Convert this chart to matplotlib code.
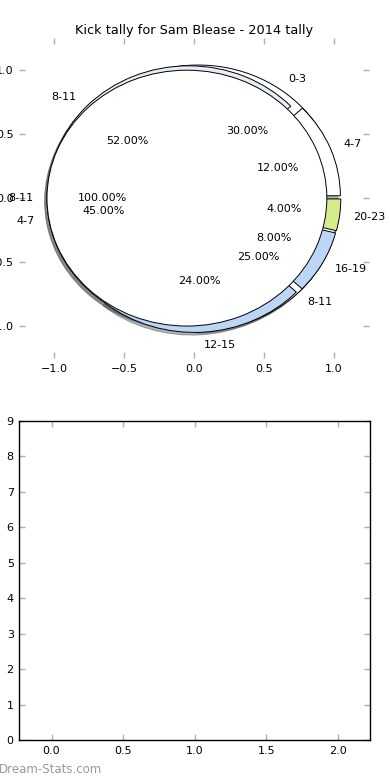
#!/usr/bin/env python3
"""
Kick tally pie chart for Sam Blease - 2014
"""

import matplotlib
matplotlib.use('Agg')
import matplotlib.pyplot as plt

# Three overlaid pies, each listed by kick bucket
pie_b_labels = ['0-3', '4-7', '8-11']
pie_b_values = [30, 45, 25]
pie_b_colors = ['white', 'white', 'white']

pie_c_labels = ['4-7', '8-11', '12-15', '16-19', '20-23']
pie_c_values = [12, 52, 24, 8, 4]
pie_c_colors = ['white', '#e6edf7', '#bcd6f8', '#bcd6f8', '#d4ec8c']

pie_a_labels = ['8-11']
pie_a_values = [100]
pie_a_colors = ['white']

title = 'Kick tally for Sam Blease - 2014 tally'
bottom_yticks = list(range(10))
bottom_xticks = [0.0, 0.5, 1.0, 1.5, 2.0]

FONT = 8
TICK_GREY = '#b0b0b0'


def draw_pie(ax, values, labels, colors):
    ax.pie(values, labels=labels, colors=colors, autopct='%.2f%%',
           explode=[0.05] * len(values),
           shadow={'ox': -0.012, 'oy': -0.015, 'alpha': 0.4},
           startangle=0, labeldistance=1.1, pctdistance=0.6,
           wedgeprops=dict(edgecolor='black', linewidth=0.7),
           textprops=dict(fontsize=FONT))


def style_ticks(ax):
    ax.tick_params(direction='in', length=4, width=1, color=TICK_GREY,
                   labelsize=FONT, top=True, right=True, pad=4)


fig = plt.figure(figsize=(3.9, 7.8), dpi=100)

# Top: overlaid pies
ax1 = fig.add_axes([0.0487, 0.541, 0.897, 0.410])
draw_pie(ax1, pie_b_values, pie_b_labels, pie_b_colors)
draw_pie(ax1, pie_c_values, pie_c_labels, pie_c_colors)
draw_pie(ax1, pie_a_values, pie_a_labels, pie_a_colors)
ax1.set_aspect('auto')
ax1.set_frame_on(False)
ax1.set_xlim(-1.25, 1.25)
ax1.set_ylim(-1.25, 1.25)
ax1.set_xticks([-1.0, -0.5, 0.0, 0.5, 1.0])
ax1.set_yticks([-1.0, -0.5, 0.0, 0.5, 1.0])
ax1.set_xticklabels(['\u22121.0', '\u22120.5', '0.0', '0.5', '1.0'])
ax1.set_yticklabels(['\u22121.0', '\u22120.5', '0.0', '0.5', '1.0'])
style_ticks(ax1)
ax1.set_title(title, fontsize=9.3, pad=3)

# Bottom: empty axes
ax2 = fig.add_axes([0.0495, 0.0513, 0.899, 0.409])
ax2.set_xlim(-0.225, 2.225)
ax2.set_ylim(0, 9)
ax2.set_xticks(bottom_xticks)
ax2.set_yticks(bottom_yticks)
style_ticks(ax2)
for spine in ax2.spines.values():
    spine.set_linewidth(1.0)

fig.text(-0.004, 0.005, 'Dream-Stats.com', fontsize=8.5, color='#999999',
         ha='left', va='bottom')

plt.savefig('out.png', dpi=100)
plt.close()
